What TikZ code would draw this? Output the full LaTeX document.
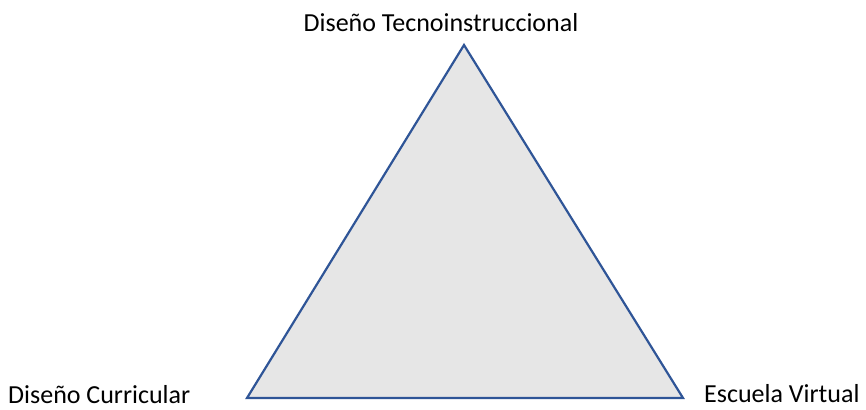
\documentclass[tikz,border=0pt]{standalone}
\usepackage{fontspec}
\setmainfont{Carlito}
\definecolor{edge}{HTML}{2F5597}
\definecolor{fillg}{HTML}{E6E6E6}
\begin{document}
\begin{tikzpicture}[x=1pt,y=-1pt,
  lbl/.style={font=\fontsize{26}{30}\selectfont, inner sep=0pt, anchor=base}]
\useasboundingbox (0,0) rectangle (866,409);
\coordinate (T) at (464,45);
\coordinate (L) at (247,398);
\coordinate (R) at (683,398);
\draw[edge, fill=fillg, line width=2.2pt, line join=miter] (T) -- (L) -- (R) -- cycle;
\node[lbl] (top) at (441,32) {Diseño Tecnoinstruccional};
\node[lbl, anchor=base west] (left) at (8,403) {Diseño Curricular};
\node[lbl, anchor=base west] (right) at (704,402) {Escuela Virtual};
\end{tikzpicture}
\end{document}
